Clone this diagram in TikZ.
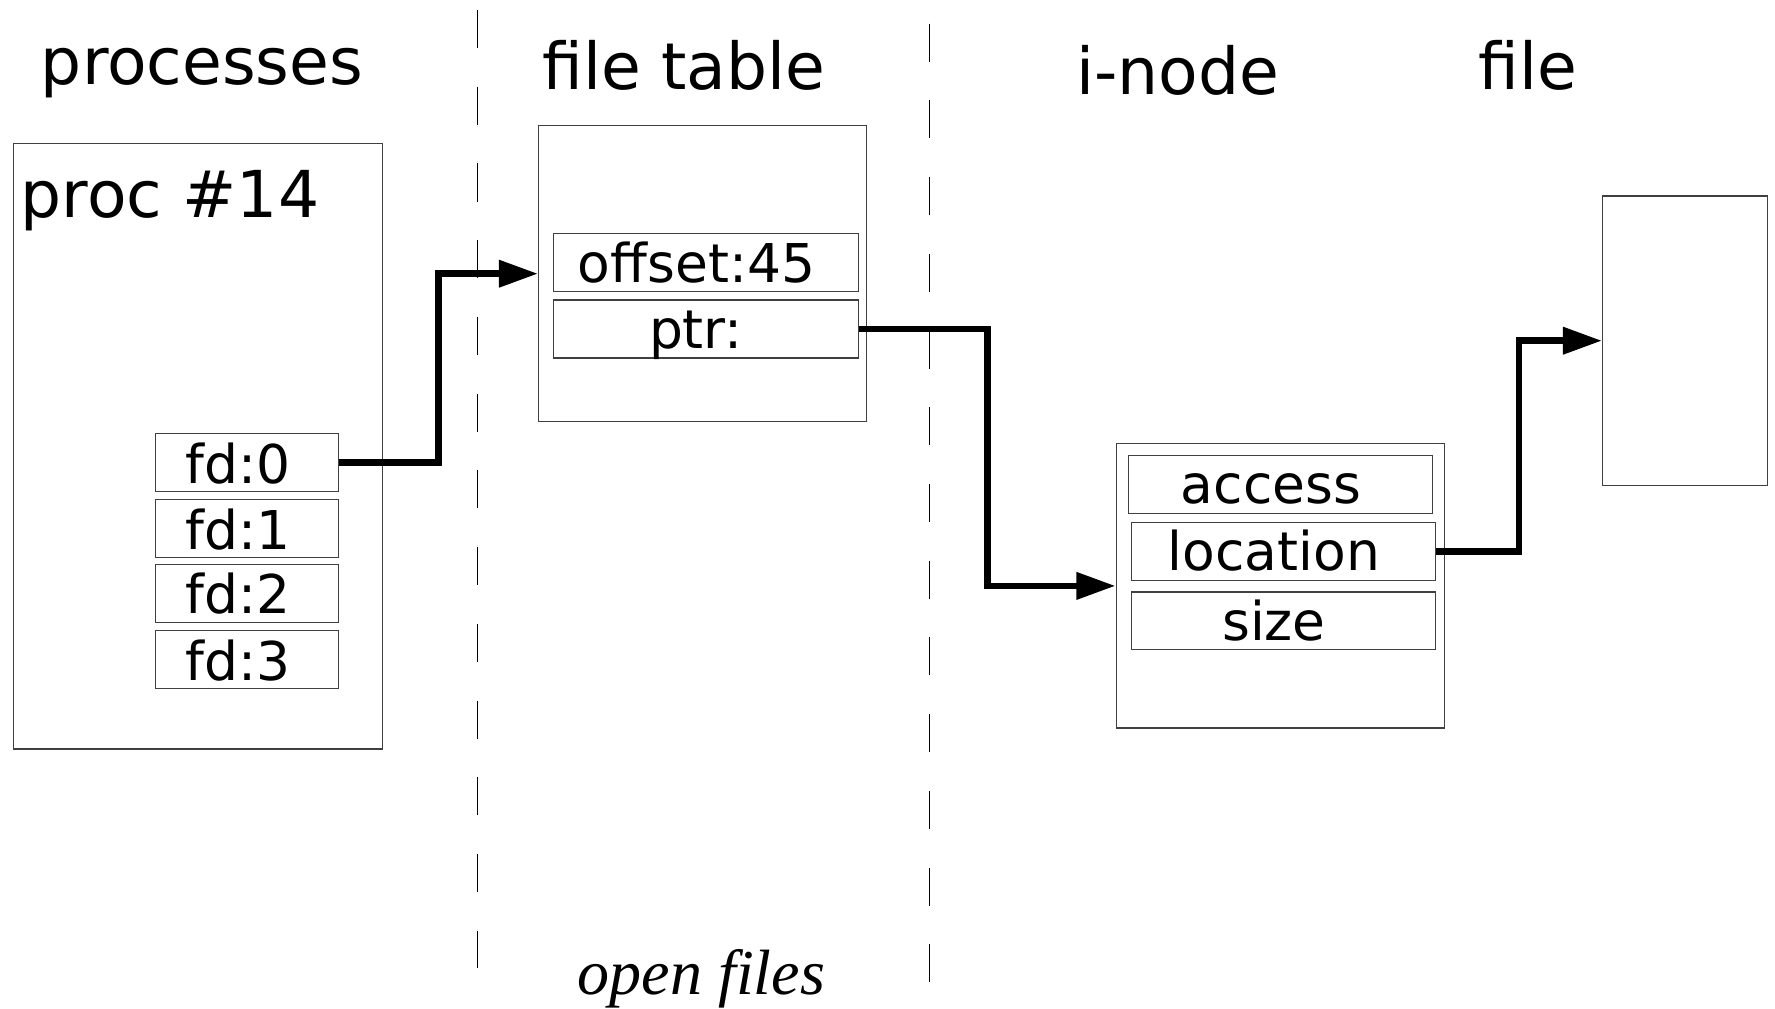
\documentclass[tikz,border=0pt]{standalone}
\usepackage{fontspec}
\setmainfont{DejaVu Sans}
\newfontfamily\notefont{Liberation Serif}
\usetikzlibrary{arrows.meta}

\begin{document}
\begin{tikzpicture}[x=0.01cm, y=-0.01cm,
  box/.style={draw=black!75, line width=0.35pt, fill=none, inner sep=0pt,
    anchor=north west},
  title/.style={inner sep=0pt, anchor=base,
    font=\fontsize{18.4pt}{21pt}\selectfont},
  entry/.style={inner sep=0pt, anchor=base,
    font=\fontsize{15.2pt}{17pt}\selectfont},
  divider/.style={line width=0.28pt, dash pattern=on 0.38cm off 0.387cm},
  link/.style={line width=1.9pt, line join=miter,
    -{Triangle[length=0.39cm, width=0.26cm]}}]
\useasboundingbox (0,0) rectangle (1775,1009);

% column headings
\node[title] (hproc)  at (202,84)  {processes};
\node[title] (hftab)  at (684,89)  {file table};
\node[title] (hinode) at (1178,94) {i-node};
\node[title] (hfile)  at (1528,90) {file};

% column dividers
\coordinate (d1top) at (477,10);
\coordinate (d1bot) at (477,968);
\coordinate (d2top) at (929.5,23.5);
\coordinate (d2bot) at (929.5,982);
\draw[divider] (d1top) -- (d1bot);
\draw[divider] (d2top) -- (d2bot);

% process with its descriptor table
\node[box, minimum width=3.69cm, minimum height=6.053cm] (proc) at (12.5,142.7) {};
\node[title, anchor=base west] (proclabel) at (20,217) {proc \#14};
\node[box, minimum width=1.83cm, minimum height=0.58cm] (fd0) at (155,433) {};
\node[box, minimum width=1.83cm, minimum height=0.58cm] (fd1) at (155,499) {};
\node[box, minimum width=1.83cm, minimum height=0.58cm] (fd2) at (155,563.5) {};
\node[box, minimum width=1.83cm, minimum height=0.58cm] (fd3) at (155,630) {};
\node[entry] (fd0t) at (238,483) {fd:0};
\node[entry] (fd1t) at (238,549) {fd:1};
\node[entry] (fd2t) at (238,613) {fd:2};
\node[entry] (fd3t) at (238,680) {fd:3};

% open file table entry
\node[box, minimum width=3.28cm, minimum height=2.96cm] (ftab) at (538,125) {};
\node[box, minimum width=3.045cm, minimum height=0.58cm] (offs) at (553,232.7) {};
\node[box, minimum width=3.045cm, minimum height=0.58cm] (ptr) at (553,299.3) {};
\node[entry] (offst) at (696.5,282) {offset:45};
\node[entry] (ptrt)  at (696,348) {ptr:};

% i-node
\node[box, minimum width=3.28cm, minimum height=2.84cm] (inode) at (1115.5,443.2) {};
\node[box, minimum width=3.04cm, minimum height=0.575cm] (acc) at (1127.5,455) {};
\node[box, minimum width=3.04cm, minimum height=0.575cm] (loc) at (1130.6,522) {};
\node[box, minimum width=3.04cm, minimum height=0.575cm] (size) at (1130.6,591.4) {};
\node[entry] (acct)  at (1271,503) {access};
\node[entry] (loct)  at (1274,570) {location};
\node[entry] (sizet) at (1274,640) {size};

% file data
\node[box, minimum width=1.646cm, minimum height=2.892cm] (data) at (1602,195.4) {};

% pointers
\draw[link] (fd0.east) -- ++(99,0) |- (ftab.west);
\draw[link] (ptr.east) -- ++(128.5,0) |- (inode.west);
\draw[link] (loc.east) -- ++(83,0) |- (data.west);

% caption
\node[title, font=\notefont\itshape\fontsize{18.2pt}{21pt}\selectfont] (caption) at (701.5,994) {open files};
\end{tikzpicture}
\end{document}
